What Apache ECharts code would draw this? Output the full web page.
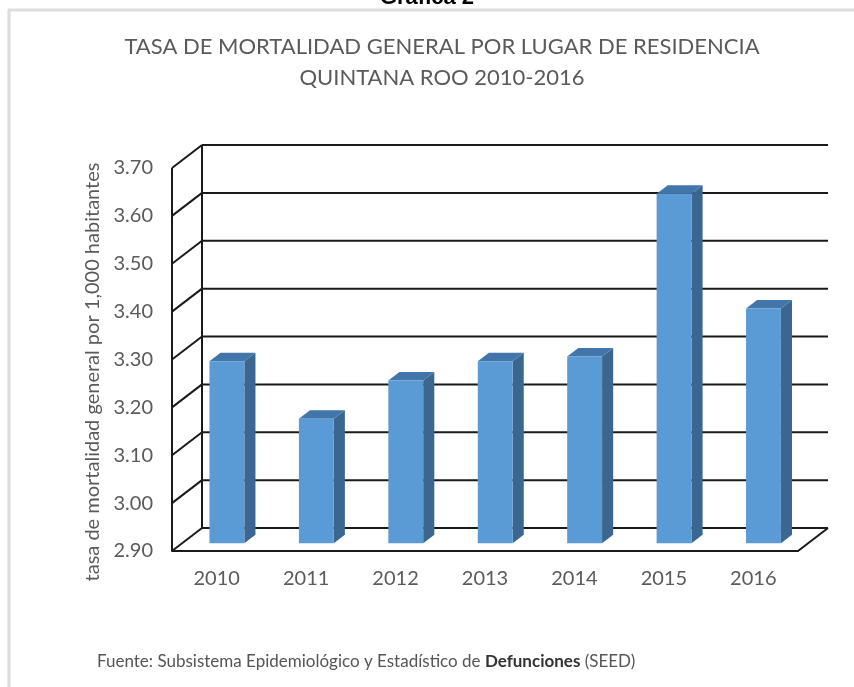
<!DOCTYPE html>
<html>
<head>
<meta charset="utf-8">
<script src="https://cdn.jsdelivr.net/npm/echarts@6/dist/echarts.min.js"></script>
<style>
  html, body { margin: 0; padding: 0; background: #fff; }
  #chart { width: 854px; height: 687px; }
</style>
</head>
<body>
<div id="chart"></div>
<script>
// datos
var years = ['2010', '2011', '2012', '2013', '2014', '2015', '2016'];
var tasa = [3.28, 3.16, 3.24, 3.28, 3.29, 3.63, 3.39];
var yTicks = [2.9, 3.0, 3.1, 3.2, 3.3, 3.4, 3.5, 3.6, 3.7];
var yMin = 2.9, yMax = 3.7;

// profundidad del "3D"
var DX = 30, DY = 23;
var F1 = 0.34, F2 = 0.71;

var chart = echarts.init(document.getElementById('chart'));

function renderWalls(params, api) {
  var cs = params.coordSys;
  var v = api.value(1);
  var y = api.coord([0, v])[1];
  var ln = { stroke: '#1a1a1a', lineWidth: 2 };
  var kids = [
    { type: 'line', shape: { x1: cs.x, y1: y, x2: cs.x + DX, y2: y - DY }, style: ln },
    { type: 'line', shape: { x1: cs.x + DX, y1: y - DY, x2: cs.x + cs.width + DX, y2: y - DY }, style: ln }
  ];
  if (v === yMin) {
    var yTop = api.coord([0, yMax])[1];
    kids.push({ type: 'line', shape: { x1: cs.x + cs.width, y1: y, x2: cs.x + cs.width + DX, y2: y - DY }, style: ln });
    kids.push({ type: 'line', shape: { x1: cs.x + DX, y1: y - DY, x2: cs.x + DX, y2: yTop - DY }, style: ln });
    kids.push({ type: 'line', shape: { x1: cs.x, y1: y, x2: cs.x, y2: yTop }, style: ln });
  }
  return { type: 'group', children: kids };
}

function renderBar(params, api) {
  var i = api.value(0), v = api.value(1);
  var top = api.coord([i, v]);
  var base = api.coord([i, yMin]);
  var w = api.size([1, 0])[0] * 0.39;
  var x0 = top[0] - w / 2 + F1 * DX;
  var x1 = x0 + w;
  var yt = top[1] - F1 * DY;
  var yb = base[1] - F1 * DY;
  var ddx = (F2 - F1) * DX, ddy = (F2 - F1) * DY;
  return {
    type: 'group',
    children: [
      { type: 'polygon', shape: { points: [[x1, yt], [x1 + ddx, yt - ddy], [x1 + ddx, yb - ddy], [x1, yb]] },
        style: { fill: '#3a6690' } },
      { type: 'polygon', shape: { points: [[x0, yt], [x0 + ddx, yt - ddy], [x1 + ddx, yt - ddy], [x1, yt]] },
        style: { fill: '#4276ab' } },
      { type: 'rect', shape: { x: x0, y: yt, width: w, height: yb - yt },
        style: { fill: '#5b9bd5' } }
    ]
  };
}

var option = {
  backgroundColor: '#fff',
  animation: false,
  textStyle: { fontFamily: 'Lato' },
  title: {
    text: 'TASA DE MORTALIDAD GENERAL POR LUGAR DE RESIDENCIA\nQUINTANA ROO 2010-2016',
    left: 437,
    textAlign: 'center',
    top: 26,
    textStyle: { fontFamily: 'Lato', fontWeight: 'normal', fontSize: 22, color: '#5a5a5a', lineHeight: 31 }
  },
  grid: { left: 172, right: 56, top: 168, bottom: 136 },
  xAxis: {
    type: 'category',
    data: years,
    axisLine: { show: true, lineStyle: { color: '#1a1a1a', width: 2 } },
    axisTick: { show: false },
    axisLabel: { margin: 18, fontSize: 20, color: '#5a5a5a', fontFamily: 'Lato' },
    splitLine: { show: false }
  },
  yAxis: {
    type: 'value',
    min: yMin,
    max: yMax,
    interval: 0.1,
    axisLine: { show: false },
    axisTick: { show: false },
    splitLine: { show: false },
    axisLabel: {
      margin: 19, fontSize: 20, color: '#5a5a5a', fontFamily: 'Lato',
      formatter: function (v) { return v.toFixed(2); }
    }
  },
  graphic: [
    { type: 'line', shape: { x1: 8, y1: 10, x2: 854, y2: 10 }, style: { stroke: '#dcdcdc', lineWidth: 3 } },
    { type: 'line', shape: { x1: 9, y1: 10, x2: 9, y2: 687 }, style: { stroke: '#dcdcdc', lineWidth: 3 } },
    { type: 'text', x: 427, y: -13,
      style: { text: 'Gráfica 2', font: 'bold 22px "Liberation Sans"', fill: '#000', textAlign: 'center' } },
    { type: 'text', x: 93, y: 372, rotation: Math.PI / 2,
      style: { text: 'tasa de mortalidad general por 1,000 habitantes', font: '20px Lato', fill: '#5a5a5a',
        textAlign: 'center', textVerticalAlign: 'middle' } },
    { type: 'text', left: 97, top: 653,
      style: {
        text: '{n|Fuente: Subsistema Epidemiológico y Estadístico de }{b|Defunciones}{n| (SEED)}',
        rich: {
          n: { fontFamily: 'Lato', fontSize: 17, fill: '#555', color: '#555' },
          b: { fontFamily: 'Lato', fontSize: 17, fontWeight: 'bold', fill: '#333', color: '#333' }
        }
      } }
  ],
  series: [
    {
      type: 'custom',
      name: 'walls',
      renderItem: renderWalls,
      data: yTicks.map(function (v) { return [0, v]; }),
      z: 1,
      silent: true
    },
    {
      type: 'custom',
      name: 'Tasa',
      renderItem: renderBar,
      data: years.map(function (y, i) { return [i, tasa[i]]; }),
      z: 5
    }
  ]
};

chart.setOption(option);
</script>
</body>
</html>
